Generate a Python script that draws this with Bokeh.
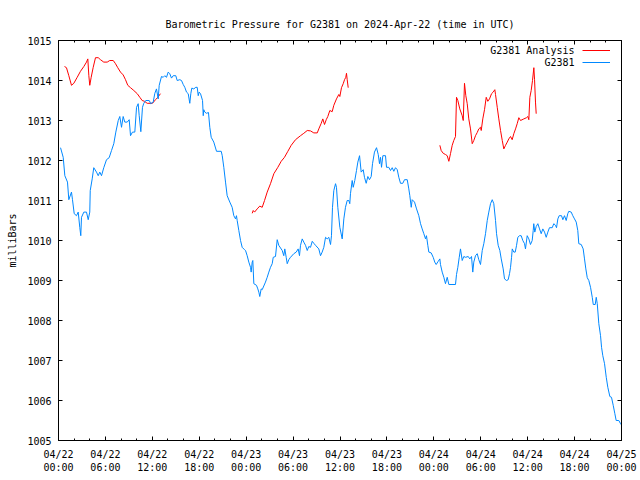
from bokeh.plotting import figure
from bokeh.models import Range1d, FixedTicker, LinearAxis, Label, Legend, LegendItem
from bokeh.embed import file_html
from bokeh.resources import INLINE

FONT = "DejaVu Sans Mono"
NaN = float("nan")

title_text = "Barometric Pressure for G2381 on 2024-Apr-22 (time in UTC)"
y_label = "milliBars"
series_names = ["G2381 Analysis", "G2381"]

# hours since 2024-04-22 00:00 UTC
station_hours = [0.26, 0.60, 0.81, 1.15, 1.32, 1.66, 1.79, 2.01, 2.30, 2.52, 2.72, 2.85, 2.94, 3.24, 3.58,
                 3.80, 4.00, 4.06, 4.31, 4.51, 4.86, 5.08, 5.28, 5.50, 5.79, 6.14, 6.48, 6.78, 7.07, 7.33,
                 7.64, 7.84, 8.06, 8.27, 8.48, 8.79, 9.04, 9.21, 9.46, 9.76, 9.98, 10.19, 10.32, 10.53,
                 10.74, 10.91, 11.16, 11.60, 11.80, 12.11, 12.32, 12.53, 12.75, 12.88, 13.17, 13.39, 13.59,
                 13.81, 14.03, 14.23, 14.45, 14.67, 15.00, 15.18, 15.51, 15.73, 15.95, 16.15, 16.37, 16.59,
                 16.79, 16.92, 17.05, 17.30, 17.56, 17.74, 17.87, 17.99, 18.16, 18.42, 18.51, 18.58, 18.71,
                 18.93, 19.18, 19.35, 19.53, 19.86, 20.21, 20.81, 20.94, 21.14, 21.36, 21.57, 21.91, 22.21,
                 22.42, 22.64, 22.76, 22.85, 23.06, 23.28, 23.49, 23.79, 23.92, 24.13, 24.34, 24.56, 24.64,
                 24.77, 24.85, 24.98, 25.32, 25.49, 25.62, 25.74, 25.92, 26.05, 26.47, 26.69, 26.90, 27.11,
                 27.33, 27.46, 27.75, 27.97, 28.17, 28.61, 28.81, 28.94, 29.12, 29.25, 29.45, 29.67, 30.09,
                 30.40, 30.65, 30.82, 30.95, 31.17, 31.37, 31.59, 31.81, 32.01, 32.23, 32.45, 32.65, 32.87,
                 33.29, 33.51, 33.72, 33.93, 34.15, 34.36, 34.57, 34.79, 34.91, 35.04, 35.21, 35.43, 35.55,
                 35.72, 35.98, 36.28, 36.49, 36.70, 36.92, 37.13, 37.25, 37.34, 37.56, 37.69, 37.89, 38.11,
                 38.28, 38.50, 38.71, 38.97, 39.13, 39.35, 39.56, 39.77, 39.99, 40.16, 40.41, 40.67, 40.89,
                 41.05, 41.18, 41.31, 41.48, 41.82, 41.95, 42.24, 42.46, 42.68, 42.88, 43.10, 43.32, 43.52,
                 43.74, 44.03, 44.25, 44.60, 44.80, 44.93, 45.11, 45.23, 45.53, 45.79, 46.08, 46.30, 46.51,
                 46.72, 46.94, 47.06, 47.23, 47.36, 47.66, 47.92, 48.12, 48.30, 48.56, 48.77, 48.85, 49.07,
                 49.28, 49.49, 49.71, 49.92, 50.77, 50.90, 51.07, 51.25, 51.41, 51.63, 51.83, 52.05, 52.40,
                 52.60, 52.82, 52.98, 53.11, 53.33, 53.55, 53.75, 53.97, 54.19, 54.39, 54.61, 54.83, 55.03,
                 55.25, 55.47, 55.67, 55.89, 56.02, 56.23, 56.44, 56.62, 56.87, 57.04, 57.30, 57.51, 57.68,
                 57.81, 57.94, 58.03, 58.23, 58.41, 58.58, 58.74, 58.96, 59.17, 59.38, 59.60, 59.72, 59.94,
                 60.15, 60.36, 60.58, 60.71, 60.78, 60.91, 61.09, 61.30, 61.52, 61.73, 61.94, 62.16, 62.37,
                 62.58, 62.79, 63.14, 63.34, 63.56, 63.69, 63.86, 64.03, 64.33, 64.50, 64.71, 64.93, 65.13,
                 65.26, 65.57, 65.77, 65.99, 66.21, 66.41, 66.54, 66.85, 67.10, 67.27, 67.44, 67.62, 67.82,
                 68.04, 68.26, 68.39, 68.64, 68.77, 68.90, 69.10, 69.32, 69.45, 69.61, 69.83, 70.05, 70.25,
                 70.51, 70.72, 70.94, 71.15, 71.32, 71.66, 71.88, 72.00]
station_mbar = [1012.32, 1012.08, 1011.62, 1011.46, 1011.02, 1011.21, 1011.02, 1010.67, 1010.62, 1010.71,
                1010.33, 1010.12, 1010.58, 1010.71, 1010.71, 1010.52, 1010.71, 1011.25, 1011.54, 1011.82,
                1011.71, 1011.62, 1011.71, 1011.62, 1011.82, 1012.02, 1012.07, 1012.25, 1012.42, 1012.71,
                1013.00, 1013.10, 1012.83, 1013.10, 1012.96, 1012.96, 1013.02, 1012.62, 1012.71, 1012.71,
                1013.33, 1013.42, 1013.12, 1012.72, 1013.33, 1013.43, 1013.50, 1013.50, 1013.42, 1013.46,
                1013.68, 1013.79, 1013.54, 1013.88, 1014.10, 1014.08, 1014.12, 1014.08, 1014.21, 1014.17,
                1014.06, 1014.12, 1014.12, 1014.00, 1014.02, 1014.00, 1013.90, 1013.83, 1013.71, 1013.67,
                1013.43, 1013.67, 1013.81, 1013.79, 1013.83, 1013.83, 1013.62, 1013.71, 1013.67, 1013.50,
                1013.12, 1013.27, 1013.21, 1013.18, 1013.20, 1012.83, 1012.58, 1012.46, 1012.23, 1012.23,
                1012.12, 1011.83, 1011.46, 1011.12, 1010.96, 1010.83, 1010.62, 1010.54, 1010.62, 1010.50,
                1010.25, 1010.00, 1009.83, 1009.77, 1009.75, 1009.62, 1009.46, 1009.33, 1009.21, 1009.46,
                1009.50, 1008.92, 1008.88, 1008.79, 1008.71, 1008.60, 1008.79, 1008.77, 1008.96, 1009.08,
                1009.21, 1009.33, 1009.42, 1009.58, 1009.60, 1010.02, 1009.88, 1009.75, 1009.62, 1009.79,
                1009.58, 1009.42, 1009.52, 1009.58, 1009.67, 1009.71, 1009.79, 1009.62, 1009.88, 1010.04,
                1009.96, 1009.88, 1009.75, 1009.85, 1009.83, 1009.98, 1009.93, 1009.88, 1009.79, 1009.62,
                1009.71, 1009.83, 1010.08, 1010.04, 1010.08, 1009.90, 1010.12, 1010.83, 1011.25, 1011.42,
                1011.33, 1010.83, 1010.33, 1010.04, 1010.54, 1010.83, 1011.00, 1011.00, 1010.92, 1011.17,
                1011.50, 1011.33, 1011.50, 1011.75, 1011.96, 1012.12, 1011.71, 1011.77, 1011.58, 1011.43,
                1011.60, 1011.52, 1011.60, 1011.92, 1012.21, 1012.32, 1012.15, 1011.92, 1012.08, 1011.83,
                1012.12, 1012.12, 1011.83, 1011.83, 1011.75, 1011.82, 1011.73, 1011.82, 1011.77, 1011.58,
                1011.43, 1011.43, 1011.52, 1011.52, 1011.29, 1011.12, 1010.83, 1011.02, 1010.96, 1010.79,
                1010.62, 1010.42, 1010.29, 1010.17, 1010.04, 1010.12, 1009.88, 1009.71, 1009.69, 1009.58,
                1009.46, 1009.40, 1009.48, 1009.54, 1009.40, 1009.21, 1009.08, 1008.92, 1009.08, 1008.90,
                1008.90, 1009.15, 1009.33, 1009.58, 1009.79, 1009.50, 1009.60, 1009.58, 1009.60, 1009.54,
                1009.60, 1009.21, 1009.46, 1009.62, 1009.67, 1009.52, 1009.40, 1009.75, 1009.92, 1010.17,
                1010.50, 1010.71, 1010.92, 1011.02, 1010.92, 1010.50, 1010.17, 1009.88, 1009.75, 1009.54,
                1009.29, 1009.04, 1009.00, 1009.02, 1009.17, 1009.33, 1009.58, 1009.79, 1009.71, 1009.71,
                1009.88, 1010.08, 1010.12, 1010.12, 1010.00, 1009.92, 1009.79, 1010.12, 1010.04, 1009.90,
                1010.00, 1010.25, 1010.42, 1010.21, 1010.35, 1010.42, 1010.29, 1010.17, 1010.29, 1010.21,
                1010.08, 1010.21, 1010.32, 1010.32, 1010.42, 1010.38, 1010.32, 1010.54, 1010.62, 1010.62,
                1010.52, 1010.62, 1010.50, 1010.67, 1010.73, 1010.71, 1010.62, 1010.54, 1010.46, 1010.25,
                1009.92, 1009.90, 1009.79, 1009.54, 1009.29, 1009.07, 1009.00, 1008.83, 1008.58, 1008.40,
                1008.40, 1008.58, 1008.42, 1007.92, 1007.62, 1007.33, 1007.12, 1006.92, 1006.58, 1006.33,
                1006.10, 1006.08, 1005.88, 1005.67, 1005.50, 1005.50, 1005.42, 1005.39]

# analysis series: three runs separated by gaps (NaN)
analysis_hours = [0.77, 1.02, 1.32, 1.66, 1.96, 2.39, 2.81, 3.24, 3.58, 3.75, 3.88, 4.00, 4.18, 4.44, 4.73,
                  5.08, 5.37, 5.79, 6.23, 6.56, 7.00, 7.29, 7.58, 7.93, 8.27, 8.57, 8.86, 9.21, 9.63, 10.07,
                  10.40, 10.70, 11.00, 11.34, 12.02, 12.41, 12.70, 13.04,
                  NaN,
                  24.77, 24.90, 25.07, 25.41, 25.74, 26.05, 26.35, 26.69, 27.11, 27.54, 28.05, 28.48, 28.90,
                  29.33, 29.76, 30.31, 30.95, 31.37, 31.81, 32.23, 32.65, 33.09, 33.29, 33.60, 33.80, 34.02,
                  34.24, 34.44, 34.70, 35.00, 35.21, 35.55, 35.85, 35.98, 36.19, 36.41, 36.58, 36.74, 36.83,
                  36.92, 37.05,
                  NaN,
                  48.77, 48.94, 49.20, 49.49, 49.71, 49.92, 50.13, 50.35, 50.55, 50.77, 50.90, 51.07, 51.32,
                  51.63, 51.76, 51.92, 52.09, 52.27, 52.47, 52.69, 52.91, 53.11, 53.33, 53.55, 53.75, 53.97,
                  54.06, 54.26, 54.48, 54.70, 54.90, 55.12, 55.38, 55.59, 55.80, 55.89, 56.11, 56.31, 56.53,
                  56.75, 56.95, 57.17, 57.39, 57.59, 57.81, 58.02, 58.23, 58.45, 58.66, 58.87, 59.09, 59.51,
                  59.85, 60.02, 60.15, 60.28, 60.45, 60.62, 60.79, 60.88, 61.00, 61.09]
analysis_mbar = [1014.35, 1014.32, 1014.12, 1013.88, 1013.93, 1014.08, 1014.23, 1014.35, 1014.46, 1014.54,
                 1014.12, 1013.88, 1014.08, 1014.33, 1014.57, 1014.57, 1014.52, 1014.46, 1014.46, 1014.50,
                 1014.50, 1014.42, 1014.32, 1014.21, 1014.14, 1014.02, 1013.88, 1013.82, 1013.75, 1013.67,
                 1013.58, 1013.50, 1013.48, 1013.43, 1013.43, 1013.52, 1013.58, 1013.67,
                 NaN,
                 1010.68, 1010.75, 1010.71, 1010.79, 1010.86, 1010.83, 1011.00, 1011.21, 1011.42, 1011.67,
                 1011.83, 1011.98, 1012.08, 1012.23, 1012.38, 1012.52, 1012.62, 1012.68, 1012.75, 1012.74,
                 1012.69, 1012.69, 1012.79, 1012.93, 1013.04, 1012.90, 1013.02, 1013.10, 1013.25, 1013.22,
                 1013.38, 1013.54, 1013.65, 1013.60, 1013.82, 1013.92, 1014.02, 1014.08, 1014.18, 1014.02,
                 1013.82,
                 NaN,
                 1012.38, 1012.25, 1012.18, 1012.15, 1012.12, 1011.98, 1012.17, 1012.38, 1012.50, 1012.60,
                 1013.58, 1013.50, 1013.29, 1013.12, 1013.00, 1013.93, 1013.62, 1013.42, 1013.04, 1012.79,
                 1012.42, 1012.50, 1012.62, 1012.70, 1012.79, 1012.83, 1012.75, 1013.04, 1013.27, 1013.58,
                 1013.48, 1013.54, 1013.67, 1013.71, 1013.77, 1013.65, 1013.33, 1013.04, 1012.75, 1012.50,
                 1012.29, 1012.38, 1012.46, 1012.54, 1012.60, 1012.52, 1012.67, 1012.79, 1012.92, 1013.07,
                 1013.00, 1013.04, 1013.07, 1013.10, 1013.02, 1013.58, 1013.75, 1014.00, 1014.32, 1014.02,
                 1013.46, 1013.17]

x_tick_hours = [0, 6, 12, 18, 24, 30, 36, 42, 48, 54, 60, 66, 72]
x_tick_labels = ["04/22\n00:00", "04/22\n06:00", "04/22\n12:00", "04/22\n18:00",
                 "04/23\n00:00", "04/23\n06:00", "04/23\n12:00", "04/23\n18:00",
                 "04/24\n00:00", "04/24\n06:00", "04/24\n12:00", "04/24\n18:00",
                 "04/25\n00:00"]
x_minor_hours = [2, 4, 8, 10, 14, 16, 20, 22, 26, 28, 32, 34, 38, 40, 44, 46, 50, 52, 56, 58, 62, 64, 68, 70]
y_ticks = [1005, 1006, 1007, 1008, 1009, 1010, 1011, 1012, 1013, 1014, 1015]

p = figure(width=640, height=480, output_backend="svg", toolbar_location=None,
           x_range=Range1d(0, 72), y_range=Range1d(1005, 1015),
           x_axis_type=None, y_axis_type=None,
           min_border_left=58, min_border_right=19, min_border_top=40, min_border_bottom=40)
p.outline_line_color = "black"
p.outline_line_width = 1
p.background_fill_color = "white"
p.border_fill_color = "white"

p.title.text = title_text
p.title.align = "center"
p.title.text_font = FONT
p.title.text_font_size = "10px"
p.title.text_font_style = "normal"
p.title.text_color = "black"
p.title.standoff = 21


def style_axis(ax):
    ax.axis_line_color = "black"
    ax.major_tick_line_color = "black"
    ax.minor_tick_line_color = "black"
    ax.major_tick_in = 4
    ax.major_tick_out = 0
    ax.minor_tick_in = 2
    ax.minor_tick_out = 0
    ax.major_label_text_font = FONT
    ax.major_label_text_font_size = "10px"
    ax.major_label_text_color = "black"
    ax.axis_label_text_font = FONT
    ax.axis_label_text_font_size = "10px"
    ax.axis_label_text_font_style = "normal"
    ax.axis_label_text_color = "black"


xticker = FixedTicker(ticks=x_tick_hours, minor_ticks=x_minor_hours)
yticker = FixedTicker(ticks=y_ticks)

bottom = LinearAxis(ticker=xticker, major_label_overrides=dict(zip(x_tick_hours, x_tick_labels)))
style_axis(bottom)
bottom.major_label_standoff = 8
p.add_layout(bottom, "below")

top = LinearAxis(ticker=xticker, major_label_overrides={t: "" for t in x_tick_hours})
style_axis(top)
top.major_label_standoff = 0
p.add_layout(top, "above")

left = LinearAxis(ticker=yticker, axis_label=y_label)
style_axis(left)
left.major_label_standoff = 7
left.axis_label_standoff = 6
p.add_layout(left, "left")

right = LinearAxis(ticker=yticker, major_label_overrides={t: "" for t in y_ticks})
style_axis(right)
right.major_label_standoff = 0
p.add_layout(right, "right")

red = p.line(analysis_hours, analysis_mbar, line_color="#ff0000", line_width=1)
blue = p.line(station_hours, station_mbar, line_color="#0088ff", line_width=1)

# legend keys (line samples) on the right; the names are right-aligned text to their left
legend = Legend(items=[LegendItem(label="", renderers=[red]),
                       LegendItem(label="", renderers=[blue])],
                location=(524, 372), glyph_width=28, glyph_height=12, label_height=12,
                label_width=0, label_standoff=0, padding=0, spacing=0, margin=0,
                border_line_alpha=0, background_fill_alpha=0,
                label_text_font=FONT, label_text_font_size="10px")
p.add_layout(legend)

for i, name in enumerate(series_names):
    p.add_layout(Label(x=72, y=1015, x_offset=-47, y_offset=-10 - 12 * i, text=name,
                       text_align="right", text_baseline="middle", text_font=FONT,
                       text_font_size="10px", text_color="black"))

open("out.html", "w").write(file_html(p, INLINE))
